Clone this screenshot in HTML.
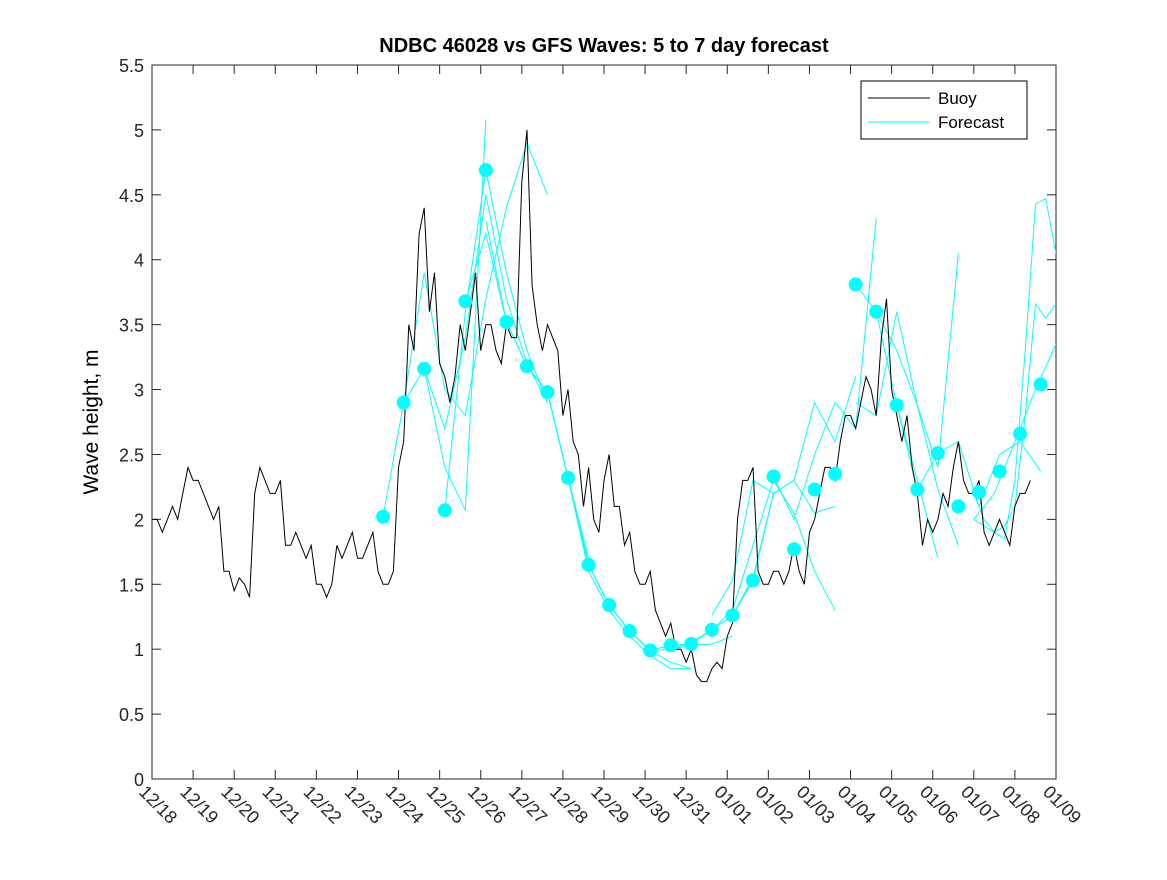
<!DOCTYPE html>
<html><head><meta charset="utf-8"><style>
body{margin:0;background:#fff;font-family:"Liberation Sans",sans-serif}
svg text{font-family:"Liberation Sans","DejaVu Sans",sans-serif}
</style></head><body>
<svg id="c" width="1167" height="875" xmlns="http://www.w3.org/2000/svg">
<rect width="1167" height="875" fill="#fff"/>
<defs><clipPath id="cp"><rect x="152" y="65" width="904" height="714"/></clipPath></defs>
<text x="604" y="52" text-anchor="middle" font-size="20" font-weight="bold">NDBC 46028 vs GFS Waves: 5 to 7 day forecast</text>
<text transform="translate(98,422) rotate(-90)" text-anchor="middle" font-size="21">Wave height, m</text>
<g id="ax"></g>
<g id="plot" clip-path="url(#cp)"></g>
<g>
<rect x="861" y="81" width="166" height="58" fill="#fff" stroke="#000" stroke-width="1"/>
<line x1="868" y1="98" x2="930" y2="98" stroke="#000"/>
<text x="938" y="104" font-size="17">Buoy</text>
<line x1="868" y1="122" x2="930" y2="122" stroke="#00ffff"/>
<text x="938" y="128" font-size="17">Forecast</text>
</g>
</svg>
<script>
const xTickLabels=["12/18","12/19","12/20","12/21","12/22","12/23","12/24","12/25","12/26","12/27","12/28","12/29","12/30","12/31","01/01","01/02","01/03","01/04","01/05","01/06","01/07","01/08","01/09"];
const yTicks=[0,0.5,1,1.5,2,2.5,3,3.5,4,4.5,5,5.5];
const buoyStep=0.25;
const buoy=[2.0,1.9,2.1,2.2,2.3,2.2,2.0,1.6,1.45,1.5,2.2,2.3,2.2,1.8,1.9,1.7,1.5,1.4,1.8,1.8,1.7,1.8,1.6,1.5,2.4,3.5,4.2,3.6,3.2,2.9,3.5,3.6,3.3,3.5,3.2,3.4,4.6,3.8,3.3,3.4,2.8,2.6,2.1,2.0,2.3,2.1,1.8,1.6,1.5,1.3,1.1,1.0,0.9,0.8,0.75,0.9,1.1,2.0,2.3,1.6,1.5,1.6,1.6,1.6,1.9,2.2,2.4,2.6,2.8,2.9,3.0,3.4,3.0,2.6,2.4,1.8,1.9,2.2,2.4,2.3,2.2,1.9,1.9,1.9,2.1,2.2];
const buoyJitter=[0,0.1,-0.1,0.2,0,-0.1,0.1,0,0.1,-0.1,0.2,-0.1,0.1,0,-0.1,0.1,0,0.1,-0.1,0.1,0,0.1,-0.1,0.1,0.2,-0.2,0.2,0.3,-0.1,0.2,-0.2,0.3,0.2,-0.2,0.3,0,0.4,-0.3,0.2,-0.1,0.2,-0.1,0.3,-0.1,0.2,0,0.1,-0.1,0.1,-0.1,0.1,0,0.1,-0.05,0.1,-0.05,0.1,0.3,0.1,-0.1,0.1,-0.1,0.2,-0.1,0.1,0.2,-0.1,0.2,-0.1,0.2,-0.2,0.3,-0.2,0.2,-0.2,0.2,0.1,-0.1,0.2,-0.1,0.1,-0.1,0.1,-0.1,0.1,0.1];
const circleStart=5.625;
const circles=[2.02,2.9,3.16,2.07,3.68,4.69,3.52,3.18,2.98,2.32,1.65,1.34,1.14,0.99,1.03,1.04,1.15,1.26,1.53,2.33,1.77,2.23,2.35,3.81,3.6,2.88,2.23,2.51,2.10,2.21,2.37,2.66,3.04];
const fcStarts=[5.625,6.125,6.625,7.125,7.625,8.125,9.125,9.625,10.125,11.125,11.625,12.625,13.625,15.125,17.125,17.625,17.125,18.125,20.0,20.0,20.0];
const fcSteps=[0.5,0.5,0.5,0.5,0.5,0.5,0.5,0.5,0.5,0.5,0.5,0.5,0.5,0.5,0.5,0.5,0.5,0.5,0.25,0.25,0.5];
const fcValues=[
[2.02,2.9,3.9,3.0,2.8,3.7,4.4,4.9,4.5],
[2.9,3.16,2.4,2.07,5.08],
[3.16,2.7,3.4,4.5,3.7,3.2,2.9],
[2.07,3.6,4.69,3.9,3.3,2.9],
[3.68,4.2,3.52,3.18,2.98,2.32,1.7],
[4.3,3.52,3.18,2.98,2.32,1.65,1.34,1.14],
[3.18,2.98,2.32,1.65,1.34,1.14,0.99,0.9,0.85],
[2.98,2.32,1.6,1.3,1.1,0.95,0.85,0.85],
[2.32,1.65,1.34,1.14,0.99,1.0,1.03,1.04,1.1],
[1.34,1.14,0.99,1.03,1.04,1.15,1.26,1.53,2.2],
[1.14,0.99,1.03,1.04,1.15,1.26,1.55,2.2,2.3,2.05,2.1],
[1.0,1.05,1.15,1.3,1.8,2.3,2.05,1.6,1.3],
[1.26,1.53,2.3,2.2,2.3,2.9,2.6,3.1],
[2.33,2.0,2.5,2.9,2.7,4.32],
[3.81,3.6,2.88,2.3,1.7],
[3.6,3.3,2.88,2.23,1.8],
[2.9,2.8,3.6,2.88,2.4,4.05],
[2.88,2.23,2.51,2.6,2.1,2.5,2.6,2.37],
[2.2,2.0,1.9,1.95,2.1,2.8,3.66,3.55,3.66],
[2.0,1.95,1.9,1.85,2.3,3.3,4.43,4.47,4.05],
[2.0,2.2,2.6,3.0,3.35]];
const NS="http://www.w3.org/2000/svg";
const X0=152,X1=1056,Y0=779,Y1=65;
const xs=d=>X0+(X1-X0)*d/22;
const ys=v=>Y0-(Y0-Y1)*v/5.5;
function mk(t,a,p){const e=document.createElementNS(NS,t);for(const k in a)e.setAttribute(k,a[k]);p.appendChild(e);return e;}
const ax=document.getElementById('ax'),pl=document.getElementById('plot');
const box=mk('rect',{x:X0,y:Y1,width:X1-X0,height:Y0-Y1,fill:'none',stroke:'#262626','stroke-width':1},ax);


yTicks.forEach(v=>{const y=ys(v);
mk('line',{x1:X0,y1:y,x2:X0+9,y2:y,stroke:'#262626'},ax);
mk('line',{x1:X1,y1:y,x2:X1-9,y2:y,stroke:'#262626'},ax);
const t=mk('text',{x:X0-8,y:y+7,'text-anchor':'end','font-size':18,fill:'#262626'},ax);t.textContent=String(v);

});
xTickLabels.forEach((s,i)=>{const x=xs(i);
mk('line',{x1:x,y1:Y0,x2:x,y2:Y0-9,stroke:'#262626'},ax);
mk('line',{x1:x,y1:Y1,x2:x,y2:Y1+9,stroke:'#262626'},ax);
const t=mk('text',{x:x-14,y:Y0+14,'font-size':18,fill:'#262626',transform:`rotate(45 ${x-14} ${Y0+14})`},ax);t.textContent=s;

});
fcValues.forEach((vals,k)=>{const pts=vals.map((v,i)=>xs(fcStarts[k]+i*fcSteps[k]).toFixed(1)+','+ys(v).toFixed(1)).join(' ');
const p=mk('polyline',{points:pts,fill:'none',stroke:'#00ffff','stroke-width':1},pl);

});
let bp=[];buoy.forEach((v,i)=>{const d=i*buoyStep;bp.push(xs(d).toFixed(1)+','+ys(v).toFixed(1));bp.push(xs(d+0.125).toFixed(1)+','+ys(v+buoyJitter[i]).toFixed(1));});
const b=mk('polyline',{points:bp.join(' '),fill:'none',stroke:'#000','stroke-width':1},pl);


circles.forEach((v,i)=>{const c=mk('circle',{cx:xs(circleStart+i*0.5),cy:ys(v),r:7,fill:'#00ffff'},pl);

});
</script>
</body></html>
